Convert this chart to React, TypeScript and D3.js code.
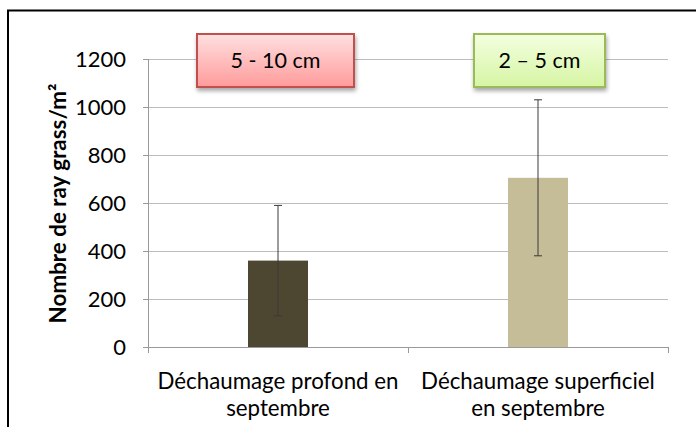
import React from "react";
import * as d3 from "d3";

const categories = ["Déchaumage profond en septembre", "Déchaumage superficiel en septembre"];
const catLines = [
  ["Déchaumage profond en", "septembre"],
  ["Déchaumage superficiel", "en septembre"],
];
const values = [360, 705];
const errors = [230, 325];
const barColors = ["#4d4630", "#c4bd97"];
const yTicks = [0, 200, 400, 600, 800, 1000, 1200];
const boxLabels = ["5 - 10 cm", "2 – 5 cm"];
const yTitle = "Nombre de ray grass/m²";

const W = 696;
const H = 427;
const margin = { top: 59, right: 28, bottom: 80, left: 148 };
const font = "Lato, 'Open Sans', sans-serif";

export default function App() {
  const x = d3
    .scaleBand<string>()
    .domain(categories)
    .range([margin.left, W - margin.right]);
  const y = d3
    .scaleLinear()
    .domain([0, 1200])
    .range([H - margin.bottom, margin.top]);
  const bw = x.bandwidth();
  const barW = 60;
  const boxes = [
    { w: 157, stroke: "#c0504d", top: "#ffe0e0", bot: "#ff9b9b" },
    { w: 131, stroke: "#9bbb59", top: "#f3ffe0", bot: "#d6f5a4" },
  ];

  return (
    <svg
      width={W}
      height={H}
      style={{ position: "absolute", left: 0, top: 0, background: "#fff" }}
      fontFamily={font}
    >
      <defs>
        {boxes.map((b, i) => (
          <linearGradient key={i} id={`g${i}`} x1="0" y1="0" x2="0" y2="1">
            <stop offset="0%" stopColor={b.top} />
            <stop offset="100%" stopColor={b.bot} />
          </linearGradient>
        ))}
        <filter id="sh" x="-10%" y="-20%" width="130%" height="160%">
          <feGaussianBlur in="SourceAlpha" stdDeviation="2" />
          <feOffset dx="1" dy="3" result="b" />
          <feComponentTransfer>
            <feFuncA type="linear" slope="0.35" />
          </feComponentTransfer>
          <feMerge>
            <feMergeNode />
            <feMergeNode in="SourceGraphic" />
          </feMerge>
        </filter>
      </defs>

      {/* outer frame */}
      <rect x={8} y={10.5} width={W} height={H} fill="none" stroke="#000" strokeWidth={2} />

      {/* gridlines + y ticks */}
      {yTicks.map((t) => (
        <g key={t}>
          {t > 0 && (
            <line
              x1={margin.left}
              x2={W - margin.right}
              y1={y(t) + 0.5}
              y2={y(t) + 0.5}
              stroke="#bdbdbd"
            />
          )}
          <line x1={margin.left - 5} x2={margin.left} y1={y(t) + 0.5} y2={y(t) + 0.5} stroke="#9a9a9a" />
          <text
            x={126}
            y={y(t)}
            dy="0.36em"
            textAnchor="end"
            fontSize={22}
            fill="#000"
          >
            {t}
          </text>
        </g>
      ))}

      {/* axes */}
      <line
        x1={margin.left + 0.5}
        x2={margin.left + 0.5}
        y1={y(1200)}
        y2={y(0)}
        stroke="#9a9a9a"
      />
      <line
        x1={margin.left}
        x2={W - margin.right}
        y1={y(0) + 0.5}
        y2={y(0) + 0.5}
        stroke="#9a9a9a"
      />
      {[...categories.map((c) => x(c)!), W - margin.right].map((px, i) => (
        <line key={i} x1={px + 0.5} x2={px + 0.5} y1={y(0)} y2={y(0) + 6} stroke="#9a9a9a" />
      ))}

      {/* bars */}
      {categories.map((c, i) => {
        const cx = x(c)! + bw / 2;
        return (
          <g key={c}>
            <rect
              x={cx - barW / 2}
              y={y(values[i])}
              width={barW}
              height={y(0) - y(values[i])}
              fill={barColors[i]}
            />
            <line
              x1={cx}
              x2={cx}
              y1={y(values[i] + errors[i])}
              y2={y(values[i] - errors[i])}
              stroke="#3a3a3a"
              strokeWidth={1}
            />
            {[values[i] + errors[i], values[i] - errors[i]].map((v, k) => (
              <line
                key={k}
                x1={cx - 4}
                x2={cx + 4}
                y1={y(v)}
                y2={y(v)}
                stroke="#3a3a3a"
              />
            ))}
          </g>
        );
      })}

      {/* category labels */}
      {categories.map((c, i) => (
        <text key={c} textAnchor="middle" fontSize={22.3} fill="#000">
          {catLines[i].map((l, k) => (
            <tspan key={k} x={x(c)! + bw / 2} y={389 + k * 27}>
              {l}
            </tspan>
          ))}
        </text>
      ))}

      {/* y title */}
      <text
        transform={`translate(66, ${(82 + 325) / 2}) rotate(-90)`}
        textAnchor="middle"
        fontSize={22.4}
        fontWeight="bold"
        fill="#000"
      >
        {yTitle}
      </text>

      {/* annotation boxes */}
      {categories.map((c, i) => {
        const cx = x(c)! + bw / 2 - (i === 0 ? 2.5 : -1.5);
        const b = boxes[i];
        return (
          <g key={`b${i}`}>
            <rect
              x={cx - b.w / 2}
              y={34}
              width={b.w}
              height={53}
              fill={`url(#g${i})`}
              stroke={b.stroke}
              strokeWidth={2}
              filter="url(#sh)"
            />
            <text x={cx} y={60.5} dy="0.35em" textAnchor="middle" fontSize={21.5} fill="#000">
              {boxLabels[i]}
            </text>
          </g>
        );
      })}
    </svg>
  );
}
